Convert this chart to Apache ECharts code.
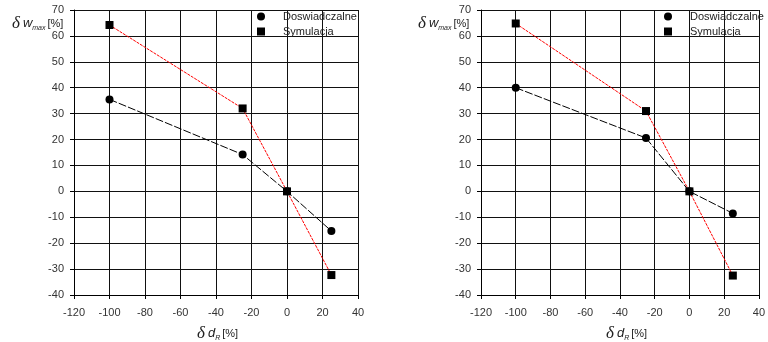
<!DOCTYPE html>
<html><head><meta charset="utf-8">
<script src="https://cdn.jsdelivr.net/npm/echarts@6/dist/echarts.min.js"></script>
<style>html,body{margin:0;padding:0;background:#fff}#c{width:768px;height:342px}</style>
</head><body><div id="c"></div>
<script>
// Data
const xValues = [-100, -25, 0, 25];
const leftDoswiadczalne = [35.5, 14.2, 0, -15.3];
const leftSymulacja = [64.2, 32.0, 0, -32.3];
const rightDoswiadczalne = [40.0, 20.6, 0, -8.5];
const rightSymulacja = [64.8, 31.0, 0, -32.5];
const seriesNames = ['Doswiadczalne', 'Symulacja'];
const xTicks = { min: -120, max: 40, interval: 20 };
const yTicks = { min: -40, max: 70, interval: 10 };

const FONT = "Arial, 'Liberation Sans', sans-serif";
const pairs = (ys) => xValues.map((x, i) => [x, ys[i]]);

const grids = [
  { left: 74, right: 410, top: 10, bottom: 47 },
  { left: 481, right: 2, top: 10, bottom: 47 }
];

function xAxis(gi) {
  return {
    type: 'value', gridIndex: gi, min: xTicks.min, max: xTicks.max, interval: xTicks.interval,
    axisLine: { show: true, onZero: false, lineStyle: { color: '#000', width: 1 } },
    axisTick: { show: true, length: 4, lineStyle: { color: '#000' } },
    axisLabel: { fontFamily: FONT, fontSize: 11, color: '#333', margin: 12 },
    splitLine: { show: true, lineStyle: { color: '#111', width: 1 } }
  };
}
function yAxis(gi) {
  return {
    type: 'value', gridIndex: gi, min: yTicks.min, max: yTicks.max, interval: yTicks.interval,
    axisLine: { show: true, onZero: false, lineStyle: { color: '#000', width: 1 } },
    axisTick: { show: true, length: 4, lineStyle: { color: '#000' } },
    axisLabel: { fontFamily: FONT, fontSize: 11, color: '#333', margin: 10 },
    splitLine: { show: true, lineStyle: { color: '#111', width: 1 } }
  };
}
function series(gi, dos, sym) {
  return [
    { name: seriesNames[0], type: 'line', xAxisIndex: gi, yAxisIndex: gi, data: pairs(dos),
      symbol: 'circle', symbolSize: 8, itemStyle: { color: '#000' },
      lineStyle: { color: '#000', width: 1, type: [8, 2] }, z: 3, animation: false },
    { name: seriesNames[1], type: 'line', xAxisIndex: gi, yAxisIndex: gi, data: pairs(sym),
      symbol: 'rect', symbolSize: 8, itemStyle: { color: '#000' },
      lineStyle: { color: '#f00', width: 1, type: [3, 1] }, z: 4, animation: false }
  ];
}
function legend(gi, left) {
  return {
    left: left, top: 6, orient: 'vertical', itemWidth: 8, itemHeight: 8, itemGap: 4,
    data: [{ name: seriesNames[0], icon: 'circle' }, { name: seriesNames[1], icon: 'rect' }],
    textStyle: { fontFamily: FONT, fontSize: 11, color: '#222', padding: [0, 0, 0, 13], lineHeight: 11 },
    selectedMode: false
  };
}
const rich = {
  d: { fontFamily: "'Liberation Serif', 'DejaVu Serif', serif", fontStyle: 'italic', fontSize: 17, fill: '#222' },
  w: { fontFamily: FONT, fontStyle: 'italic', fontSize: 13, fill: '#222', padding: [0, 0, 0, 3] },
  s: { fontFamily: FONT, fontStyle: 'italic', fontSize: 7, fill: '#222', verticalAlign: 'bottom', padding: [0, 0, 0, 0] },
  p: { fontFamily: FONT, fontSize: 11, fill: '#222', padding: [0, 0, 0, 2] }
};
function label(x, y, text) {
  return { type: 'text', left: x, top: y, style: { text: text, rich: rich } };
}

const chart = echarts.init(document.getElementById('c'), null, { renderer: 'canvas' });
chart.setOption({
  animation: false,
  backgroundColor: '#fff',
  grid: grids,
  xAxis: [xAxis(0), xAxis(1)],
  yAxis: [yAxis(0), yAxis(1)],
  legend: [legend(0, 252), legend(1, 659)],
  series: [...series(0, leftDoswiadczalne, leftSymulacja), ...series(1, rightDoswiadczalne, rightSymulacja)],
  graphic: [
    label(12, 15, '{d|δ}{w|w}{s|max}{p|[%]}'),
    label(418, 15, '{d|δ}{w|w}{s|max}{p|[%]}'),
    label(197, 325, '{d|δ}{w|d}{s|R}{p|[%]}'),
    label(606, 325, '{d|δ}{w|d}{s|R}{p|[%]}')
  ]
});
</script></body></html>
